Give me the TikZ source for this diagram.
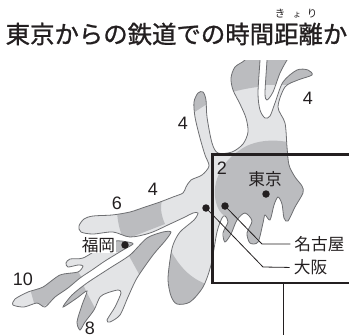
\documentclass[tikz,border=0pt]{standalone}
\usepackage{fontspec}
\newfontfamily\jp{Noto Sans CJK JP}
\newfontfamily\jpb[FakeBold=1.1]{Noto Sans CJK JP}
\setsansfont{Liberation Sans}
\definecolor{lightg}{HTML}{E3E4E6}
\definecolor{darkg}{HTML}{BBBCBF}
\definecolor{edge}{HTML}{6E6F72}
\definecolor{ink}{HTML}{231F20}
\newcommand\mainpath{plot[smooth cycle,tension=.5] coordinates{(250,50)(245,60)(235,67)(231,78)(233,90)(240,104)(246,118)(248,132)(243,144)(232,152)(218,153)(212,143)(207,117)(206,100)(203,92)(198,93)(194,102)(195,117)(200,138)(205,155)(209,166)(202,175)(191,180)(186,187)(183,193)(173,197)(160,202)(145,207)(130,212)(112,215)(93,216)(84,219)(79,226)(81,232)(93,234)(113,232)(130,237)(150,233)(170,224)(185,217)(193,213)(198,213)(194,220)(180,232)(173,245)(170,260)(168,280)(171,296)(177,304)(190,302)(203,287)(211,265)(217,232)(222,218)(225,216)(228,222)(223,233)(225,242)(231,234)(237,220)(245,213)(252,221)(247,233)(250,243)(258,242)(263,223)(265,215)(270,220)(274,205)(278,197)(282,204)(284,218)(288,221)(295,207)(303,193)(302,186)(295,177)(289,165)(287,147)(285,123)(278,107)(285,87)(298,80)(312,75)(308,70)(297,70)(283,82)(275,103)(270,116)(265,118)(260,110)(258,93)(260,60)(260,50)}}
\newcommand\fingerpath{plot[smooth cycle,tension=.5] coordinates{(267,50)(267,60)(265,93)(267,100)(273,92)(280,73)(287,60)(293,50)}}
\newcommand\armeightpath{plot[smooth cycle,tension=.45] coordinates{(171,232)(163,232)(147,238)(130,255)(110,268)(87,283)(72,295)(63,307)(77,298)(87,291)(82,305)(77,322)(80,330)(85,322)(94,310)(100,297)(107,293)(118,290)(121,293)(115,307)(107,320)(110,322)(120,315)(128,297)(137,278)(153,255)(165,241)}}
\newcommand\armtenpath{plot[smooth cycle,tension=.45] coordinates{(133,244)(128,242)(115,241)(100,248)(83,258)(70,259)(66,263)(68,267)(78,265)(83,266)(78,272)(60,275)(43,287)(28,292)(15,299)(13,305)(24,307)(37,303)(45,307)(55,297)(68,288)(80,278)(92,270)(105,261)(123,250)}}
\tikzset{
  outline/.style={draw=edge,line width=.8pt},
  band/.style={fill=darkg},
  frameline/.style={draw=ink,line width=2.3pt},
  leader/.style={draw=ink,line width=.8pt,shorten >=4pt},
  citydot/.style={circle,fill=ink,inner sep=0pt,minimum size=7.5pt},
  city/.style={font=\jp\fontsize{16.7}{16.7}\selectfont,text=ink,inner sep=0pt},
  hour/.style={font=\sffamily\fontsize{18}{18}\selectfont,text=ink,inner sep=0pt},
  rubykana/.style={font=\jp\fontsize{#1}{#1}\selectfont,text=ink,inner sep=0pt},
}
\begin{document}
\begin{tikzpicture}[x=1pt,y=-1pt]
\useasboundingbox (0,0) rectangle (349,335);
\begin{scope}
  \clip (0,60) rectangle (349,335);
  \fill[lightg] \mainpath;
  \fill[lightg] \fingerpath;
  \begin{scope}
    \clip \mainpath;
    \fill[band] (225,40) -- (225,94) .. controls (255,85) and (280,84) .. (320,85) -- (320,40) -- cycle;
    \fill[band] (190,115) -- (207,104) -- (207,85) -- (190,85) -- cycle;
    \fill[band] (240,150) .. controls (252,141) and (272,138) .. (292,143) -- (315,143) -- (315,260) -- (222,260) -- (225,216) .. controls (216,212) and (210,190) .. (220,172) .. controls (225,162) and (232,155) .. (240,150) -- cycle;
    \fill[band] (162,200) .. controls (160,207) and (161,215) .. (165,224) -- (124,240) .. controls (120,232) and (118,224) .. (117,212) -- cycle;
    \fill[band] (168,245) .. controls (178,266) and (190,278) .. (206,284) -- (190,315) -- (160,315) -- cycle;
  \end{scope}
  \draw[outline] \mainpath;
  \begin{scope}
    \clip \fingerpath;
    \fill[band] (260,50) rectangle (295,85);
  \end{scope}
  \draw[outline] \fingerpath;
\end{scope}
\fill[lightg] \armeightpath;
\begin{scope}
  \clip \armeightpath;
  \fill[band] (128,254) -- (139,274) -- (180,260) -- (180,225) -- (140,225) -- cycle;
  \fill[band] (55,275) -- (81,280) -- (87,293) -- (96,310) -- (90,335) -- (55,335) -- cycle;
\end{scope}
\draw[outline] \armeightpath;
\fill[lightg] \armtenpath;
\begin{scope}
  \clip \armtenpath;
  \fill[band] (29,285) -- (36,310) -- (75,290) -- (82,278) -- (76,268) -- cycle;
  \fill[band] (116,238) rectangle (135,252);
\end{scope}
\draw[outline] \armtenpath;
\node[city,fill=white,inner xsep=1pt] (fukuokalabel) at (98.5,245.5) {福岡};
\node[citydot] (fukuoka) at (125,245) {};
\node[citydot] (tokyo) at (266,194) {};
\node[citydot] (nagoya) at (225,206) {};
\node[citydot] (osaka) at (206,208) {};
\draw[frameline] (349,154.5) -- (212.5,154.5) -- (212.5,283) -- (349,283);
\node[city] (tokyolabel) at (265,179) {東京};
\node[city] (nagoyalabel) at (319.5,244) {名古屋};
\node[city] (osakalabel) at (310.5,267.5) {大阪};
\coordinate (nagoyabend) at (262,244);
\coordinate (osakabend) at (263,267);
\draw[leader] (nagoya.center) -- (nagoyabend) -- (nagoyalabel.west);
\draw[leader] (osaka.center) -- (osakabend) -- (osakalabel.west);
\coordinate (framefoot) at (283,283);
\coordinate (stemend) at (283,335);
\draw[draw=ink,line width=1pt] (framefoot) -- (stemend);
\node[hour] (h2) at (222,168) {2};
\node[hour] (h4a) at (183,123) {4};
\node[hour] (h4b) at (308,98) {4};
\node[hour] (h4c) at (153,189) {4};
\node[hour] (h6) at (117,203) {6};
\node[hour] (h10) at (23,279) {10};
\node[hour] (h8) at (90,328) {8};
\node[font=\jpb\fontsize{24.4}{24.4}\selectfont,text=ink,inner sep=0pt] (title) at (176.5,34) {東京からの鉄道での時間距離か};
\node[rubykana=10.5] (rubya) at (280,14) {き};
\node[rubykana=8.5] (rubyb) at (297,15.5) {ょ};
\node[rubykana=10.5] (rubyc) at (312,14) {り};
\end{tikzpicture}
\end{document}
